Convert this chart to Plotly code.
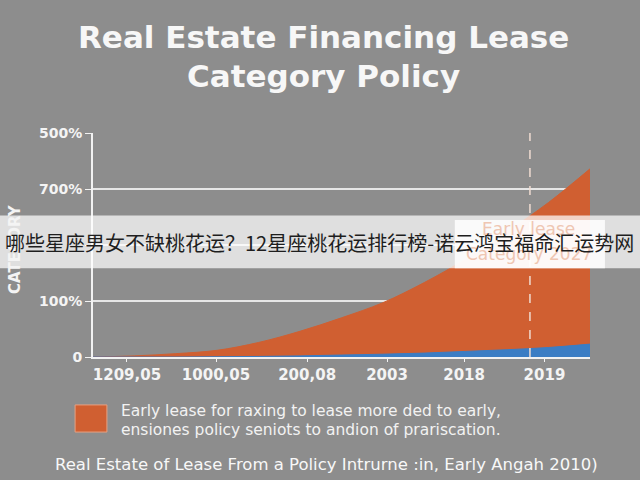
import plotly.graph_objects as go

# ---- data ----
period_index = list(range(13))
early_lease_values = [0, 0.02, 0.06, 0.12, 0.26, 0.46, 0.70, 0.97, 1.33, 1.75, 2.24, 2.76, 3.36]
policy_values = [0, 0, 0, 0.005, 0.01, 0.02, 0.035, 0.05, 0.07, 0.10, 0.13, 0.17, 0.23]

x_tick_positions = [0.82, 2.97, 5.17, 7.1, 8.96, 10.9]
x_tick_labels = ["1209,05", "1000,05", "200,08", "2003", "2018", "2019"]
y_tick_values = [0, 1, 2, 3, 4]
y_tick_labels = ["0", "100%", "", "700%", "500%"]
marker_period = 10.55

title_lines = ["Real Estate Financing Lease", "Category Policy"]
y_title = "CATEGORY"
legend_lines = ["Early lease for raxing to lease more ded to early,",
                "ensiones policy seniots to andion of prariscation."]
caption_text = "Real Estate of Lease From a Policy Intrurne :in, Early Angah 2010)"
callout_lines = ["Early lease", "Category 2027"]
banner_text = "哪些星座男女不缺桃花运？12星座桃花运排行榜-诺云鸿宝福命汇运势网"

ORANGE = "#d05f31"
BLUE = "#3b7dc4"
BG = "#8d8d8d"
FONT = "DejaVu Sans"

fig = go.Figure()
fig.add_trace(go.Scatter(x=period_index, y=early_lease_values, mode="lines",
                         line=dict(color=ORANGE, width=1, shape="spline", smoothing=1.0),
                         fill="tozeroy", fillcolor=ORANGE, showlegend=False, hoverinfo="skip"))
fig.add_trace(go.Scatter(x=period_index, y=policy_values, mode="lines",
                         line=dict(color=BLUE, width=1, shape="spline"),
                         fill="tozeroy", fillcolor=BLUE, showlegend=False, hoverinfo="skip"))

fig.update_layout(
    width=640, height=480,
    paper_bgcolor=BG, plot_bgcolor=BG,
    margin=dict(l=93, r=50, t=133, b=123),
    font=dict(family=FONT, color="#f2f2f2"),
)
fig.update_xaxes(range=[0, 12], tickvals=x_tick_positions, ticktext=x_tick_labels,
                 showgrid=False, zeroline=False, showline=True, linecolor="#f2f2f2", linewidth=2,
                 ticks="outside", ticklen=3, tickcolor="#f2f2f2",
                 tickfont=dict(family=FONT, size=15, color="#f4f4f4", weight=700))
fig.update_yaxes(range=[0, 4.0], tickvals=y_tick_values, ticktext=y_tick_labels,
                 showgrid=True, gridcolor="#e6e6e6", gridwidth=2, zeroline=False,
                 showline=True, linecolor="#f2f2f2", linewidth=2,
                 ticks="outside", ticklen=6, tickcolor="#f2f2f2",
                 tickfont=dict(family=FONT, size=14, color="#f4f4f4", weight=700))

shapes = [
    dict(type="line", xref="x", yref="y", x0=marker_period, x1=marker_period, y0=0, y1=4,
         line=dict(color="#f0dcd2", width=1.5, dash="dash"), layer="above"),
    dict(type="rect", xref="paper", yref="paper", x0=-0.036, x1=0.028, y0=-0.335, y1=-0.214,
         fillcolor=ORANGE, line=dict(color="#e8a080", width=1), layer="above"),
    dict(type="rect", xref="paper", yref="paper", x0=-0.2, x1=1.11, y0=0.396, y1=0.632,
         fillcolor="rgba(255,255,255,0.72)", line=dict(width=0), layer="above"),
    dict(type="rect", xref="paper", yref="paper", x0=0.728, x1=1.03, y0=0.396, y1=0.612,
         fillcolor="rgba(255,255,255,0.85)", line=dict(width=0), layer="above"),
]
fig.update_layout(shapes=shapes)

def ann(text, x, y, size, color, weight=400, xanchor="center", textangle=0, family=FONT):
    return dict(text=text, xref="paper", yref="paper", x=x, y=y, xanchor=xanchor,
                yanchor="middle", showarrow=False, textangle=textangle,
                font=dict(family=family, size=size, color=color, weight=weight))

annotations = [
    ann(title_lines[0], 0.463, 1.429, 31, "#f7f7f7", weight=700),
    ann(title_lines[1], 0.463, 1.254, 31, "#f7f7f7", weight=700),
    ann(y_title, -0.157, 0.482, 15, "#f4f4f4", weight=700, textangle=-90),
    ann(legend_lines[0], 0.052, -0.243, 15.5, "#f2f2f2", xanchor="left"),
    ann(legend_lines[1], 0.052, -0.327, 15.5, "#f2f2f2", xanchor="left"),
    ann(caption_text, 0.469, -0.478, 16.5, "#f8f8f8"),
    ann(callout_lines[0], 0.877, 0.571, 17, "#efc6b2"),
    ann(callout_lines[1], 0.877, 0.46, 17, "#efc6b2"),
    ann(banner_text, -0.181, 0.509, 20, "#1e1e1e", xanchor="left", family="Noto Sans CJK SC"),
]
fig.update_layout(annotations=annotations)

fig.write_html("out.html", config={"displayModeBar": False},
               post_script="document.body.style.margin='0';")
